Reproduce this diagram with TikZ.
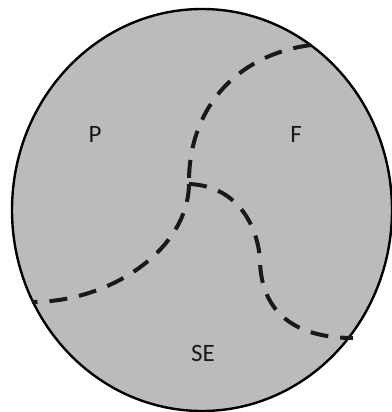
\documentclass[tikz,border=0pt]{standalone}
\usepackage{fontspec}
\setmainfont{Carlito}
\begin{document}
\begin{tikzpicture}[x=1pt,y=-1pt,
  region/.style={draw=black, line width=2.4pt, fill=regiongray},
  border/.style={line width=4pt, dash pattern=on 18pt off 12pt, draw=black!90},
  lab/.style={font=\fontsize{25}{25}\selectfont, text=black!90}]
\definecolor{regiongray}{HTML}{BBBBBB}
\useasboundingbox (0,0) rectangle (391,412);
\path[region] (202,210) ellipse [x radius=190, y radius=201];
\coordinate (a1) at (311,45);
\coordinate (j) at (189,184);
\coordinate (a2) at (32,302);
\coordinate (b2) at (353,338);
\draw[border] (a1) .. controls (235,55) and (188,110) .. (j);
\draw[border] (j) .. controls (188,250) and (110,302) .. (a2);
\draw[border] (j) .. controls (240,186) and (259,230) .. (260,262)
  .. controls (262,320) and (305,338) .. (b2);
\node[lab] (p) at (95,134) {P};
\node[lab] (f) at (296,134) {F};
\node[lab] (se) at (203,353) {SE};
\end{tikzpicture}
\end{document}
